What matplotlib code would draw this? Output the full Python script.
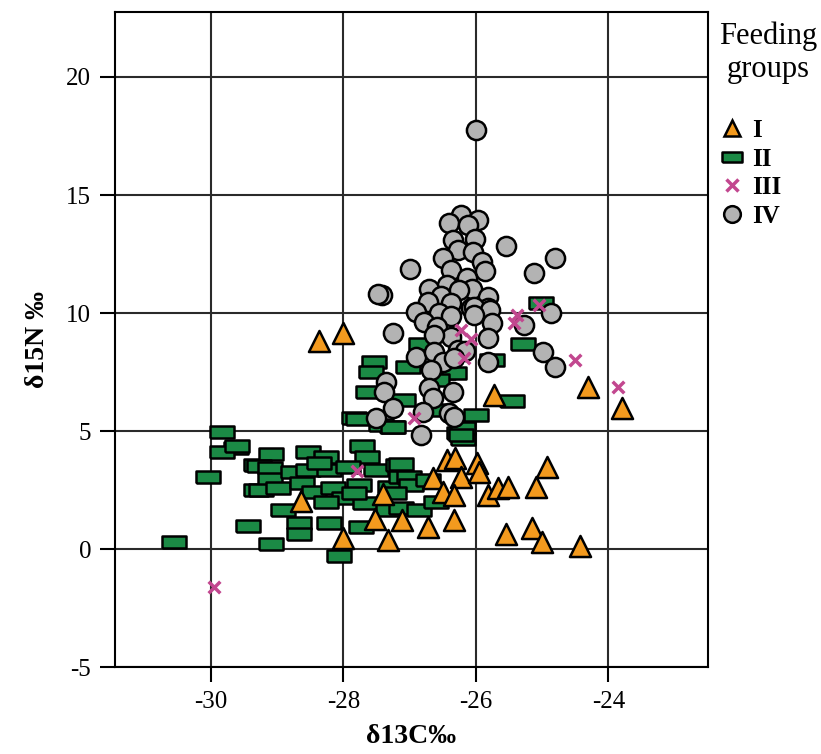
import matplotlib
matplotlib.use("Agg")
import matplotlib.pyplot as plt
from matplotlib.lines import Line2D

plt.rcParams['font.family'] = ['Liberation Serif', 'DejaVu Serif']
plt.rcParams['axes.unicode_minus'] = False

# feeding group I (triangles)
g1_x = [-28.37, -28.0, -28.64, -28.0, -27.32, -27.4, -27.53, -27.12, -26.72, -26.33,
        -26.65, -26.43, -26.32, -26.23, -25.99, -25.96, -26.49, -26.33, -25.81, -25.67,
        -25.51, -25.1, -24.92, -25.54, -25.16, -25.0, -24.43, -25.73, -24.31, -23.8]
g1_y = [8.8, 9.15, 2.03, 0.47, 0.38, 2.33, 1.3, 1.23, 0.95, 1.23,
        3.0, 3.77, 3.86, 3.05, 3.64, 3.26, 2.42, 2.29, 2.29, 2.58,
        2.63, 2.63, 3.47, 0.64, 0.89, 0.3, 0.13, 6.53, 6.86, 6.0]

# feeding group II (rectangles)
g2_x = [-29.83, -29.62, -29.83, -30.05, -29.44, -30.56, -29.32, -29.32, -29.6, -29.1,
        -29.1, -28.54, -29.28, -29.11, -29.11, -29.25, -28.99, -28.76, -28.54, -28.63,
        -28.91, -28.67, -28.67, -28.27, -28.22, -28.45, -28.16, -27.99, -28.22, -28.07,
        -27.74, -27.72, -27.65, -27.93, -27.51, -27.77, -27.68, -27.33, -27.3, -27.18,
        -27.13, -27.63, -27.84, -27.27, -28.37, -28.27, -27.13, -27.01, -26.98, -27.13,
        -26.86, -26.6, -26.73, -27.24, -26.26, -26.2, -27.44, -27.84,
        -25.02, -25.29, -25.75, -26.83, -27.03, -27.54, -27.59, -27.1, -26.49, -26.33,
        -26.58, -25.45, -26.0, -26.2, -27.25, -27.78, -26.53, -26.23]
g2_y = [4.96, 4.28, 4.11, 3.05, 0.97, 0.3, 3.56, 2.5, 4.36, 0.21,
        4.03, 4.11, 3.52, 3.43, 2.97, 2.5, 2.58, 3.26, 3.35, 2.8,
        1.65, 1.1, 0.64, 3.9, 3.35, 2.42, 2.58, 2.16, 1.1, -0.3,
        0.93, 4.36, 3.9, 3.47, 3.35, 2.71, 1.95, 1.65, 2.63, 3.56,
        3.05, 6.65, 5.55, 5.17, 3.64, 2.0, 3.6, 3.05, 2.71, 1.74,
        1.65, 2.0, 2.92, 2.37, 4.92, 4.66, 5.25, 2.37,
        10.42, 8.69, 8.0, 8.69, 7.71, 7.92, 7.5, 6.31, 7.46, 7.46,
        7.16, 6.27, 5.68, 5.13, 5.17, 5.51, 5.89, 4.83]

# feeding group III (crosses)
g3_x = [-29.95, -27.8, -26.94, -26.23, -26.08, -26.18, -25.38, -25.43, -25.05, -24.5, -23.86]
g3_y = [-1.6, 3.3, 5.55, 9.28, 8.9, 8.1, 9.9, 9.6, 10.34, 8.0, 6.86]

# feeding group IV (circles)
g4_x = [-26.0, -26.23, -25.97, -26.41, -26.12, -26.35, -26.02, -26.27, -26.05, -25.55,
        -26.5, -25.91, -27.0, -26.37, -25.87, -26.14, -26.43, -26.71, -26.06, -26.53,
        -26.26, -26.73, -25.82, -27.42, -26.38, -26.91, -25.81, -26.56, -26.08,
        -24.8, -25.13, -27.48, -26.37, -26.03, -25.79, -26.03, -25.76, -24.87, -25.28,
        -27.25, -26.79, -26.58, -26.38, -26.64, -25.82, -26.27, -26.17, -26.91, -26.64,
        -26.5, -25.82, -24.98, -24.8, -27.36, -26.68, -26.71, -26.35, -27.39, -26.65,
        -27.25, -26.8, -27.51, -26.41, -26.33, -26.83, -26.33]
g4_y = [17.75, 14.15, 13.94, 13.8, 13.73, 13.1, 13.14, 12.67, 12.58, 12.84,
        12.33, 12.16, 11.86, 11.82, 11.78, 11.48, 11.19, 11.02, 11.02, 10.72,
        10.97, 10.47, 10.68, 10.76, 10.42, 10.04, 10.21, 10.0, 10.21,
        12.33, 11.69, 10.8, 9.87, 10.25, 10.13, 9.92, 9.58, 10.0, 9.49,
        9.15, 9.62, 9.41, 8.98, 9.07, 8.94, 8.43, 8.39, 8.14, 8.35,
        7.92, 7.92, 8.35, 7.71, 7.08, 7.58, 6.82, 6.65, 6.65, 6.4,
        5.97, 5.8, 5.55, 5.76, 5.59, 4.83, 8.1]

group_labels = ['I', 'II', 'III', 'IV']

orange = '#f39a1e'
green = '#1b8a45'
magenta = '#c2478f'
grey = '#b3b3b3'
rect = [(-1, -0.5), (1, -0.5), (1, 0.5), (-1, 0.5), (-1, -0.5)]

fig = plt.figure(figsize=(8.21, 7.54), dpi=100)
ax = fig.add_axes([0.140, 0.115, 0.722, 0.869])

ax.scatter(g2_x, g2_y, marker=rect, s=300, c=green, edgecolors='black', linewidths=1.8, zorder=3)
ax.scatter(g1_x, g1_y, marker='^', s=230, c=orange, edgecolors='black', linewidths=1.8, zorder=4)
ax.scatter(g4_x, g4_y, marker='o', s=190, c=grey, edgecolors='black', linewidths=1.8, zorder=5)
ax.scatter(g3_x, g3_y, marker='x', s=70, c=magenta, linewidths=2.5, zorder=6)

ax.set_xlim(-31.45, -22.5)
ax.set_ylim(-5, 22.75)
ax.set_xticks([-30, -28, -26, -24])
ax.set_yticks([-5, 0, 5, 10, 15, 20])
ax.grid(True, color='#2a2a2a', linewidth=1.5)
ax.set_axisbelow(True)
for sp in ax.spines.values():
    sp.set_linewidth(1.5)
ax.tick_params(direction='out', length=11, width=1.5, labelsize=18, pad=6)

ax.set_xlabel('δ13C‰', fontsize=20, fontweight='bold', labelpad=8)
ax.set_ylabel('δ15N ‰', fontsize=20, fontweight='bold', labelpad=12)

fig.text(0.936, 0.972, 'Feeding\ngroups', ha='center', va='top', fontsize=22,
         multialignment='center', linespacing=1.2)

handles = [
    Line2D([], [], ls='', marker='^', ms=12, mfc=orange, mec='black', mew=1.8),
    Line2D([], [], ls='', marker=rect, ms=15, mfc=green, mec='black', mew=1.8),
    Line2D([], [], ls='', marker='x', ms=8, mec=magenta, mew=2.5),
    Line2D([], [], ls='', marker='o', ms=12, mfc=grey, mec='black', mew=1.8),
]
fig.legend(handles, group_labels, loc='upper left', bbox_to_anchor=(0.876, 0.842),
           frameon=False, handlelength=1.0, handletextpad=0.3, labelspacing=0.22,
           borderaxespad=0, borderpad=0, prop={'size': 18, 'weight': 'bold'})

fig.savefig('out.png', dpi=100)
